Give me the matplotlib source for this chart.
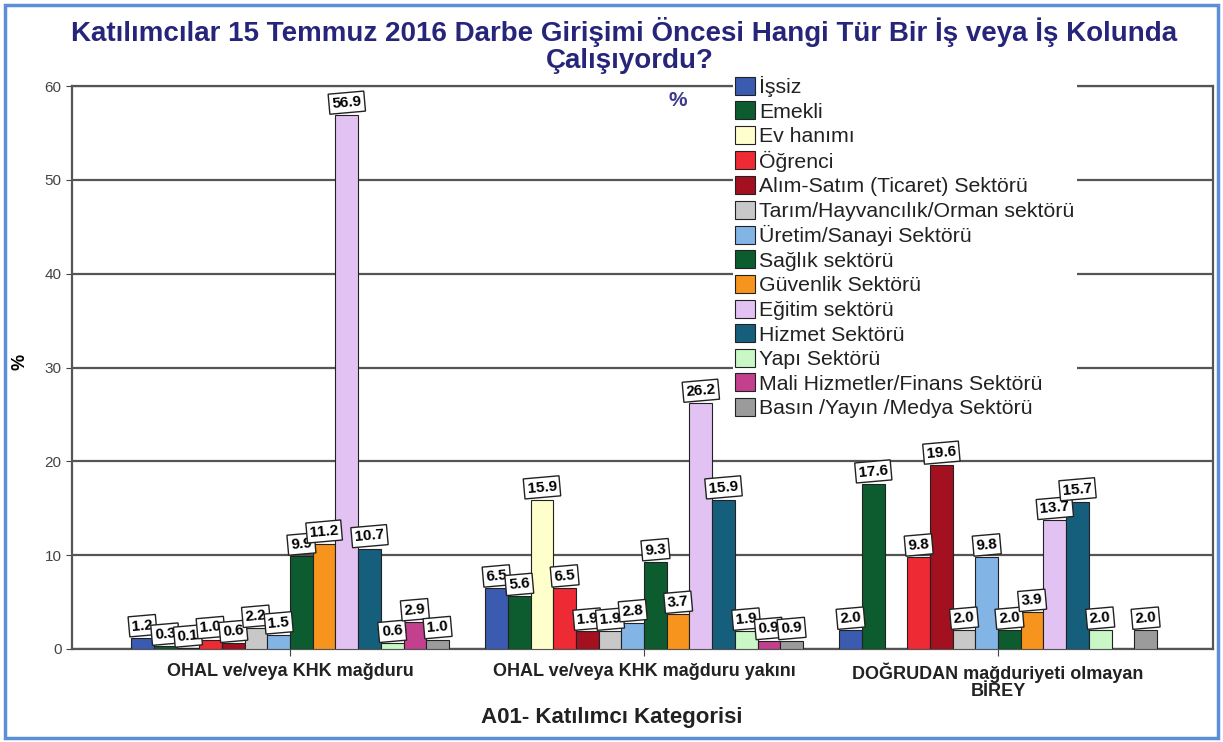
import numpy as np
import matplotlib.pyplot as plt
from matplotlib.patches import Rectangle

plt.rcParams['font.family'] = ['Liberation Sans', 'DejaVu Sans']

# groups on the x axis
groups = ["OHAL ve/veya KHK mağduru",
          "OHAL ve/veya KHK mağduru yakını",
          "DOĞRUDAN mağduriyeti olmayan\nBİREY"]

# occupation categories (legend order)
categories = ["İşsiz", "Emekli", "Ev hanımı", "Öğrenci",
              "Alım-Satım (Ticaret) Sektörü", "Tarım/Hayvancılık/Orman sektörü",
              "Üretim/Sanayi Sektörü", "Sağlık sektörü", "Güvenlik Sektörü",
              "Eğitim sektörü", "Hizmet Sektörü", "Yapı Sektörü",
              "Mali Hizmetler/Finans Sektörü", "Basın /Yayın /Medya Sektörü"]

# percentages per group, same order as categories
magdur = [1.2, 0.3, 0.1, 1.0, 0.6, 2.2, 1.5, 9.9, 11.2, 56.9, 10.7, 0.6, 2.9, 1.0]
yakini = [6.5, 5.6, 15.9, 6.5, 1.9, 1.9, 2.8, 9.3, 3.7, 26.2, 15.9, 1.9, 0.9, 0.9]
birey = [2.0, 17.6, 0.0, 9.8, 19.6, 2.0, 9.8, 2.0, 3.9, 13.7, 15.7, 2.0, 0.0, 2.0]

colors = ["#3A5BB0", "#0D5C2F", "#FFFFCC", "#EE2A35", "#A3101F", "#C8C8C8",
          "#82B4E6", "#0D5C2F", "#F7941D", "#E2C2F2", "#155F7C", "#C9F7C6",
          "#C2408E", "#9B9B9B"]

values = np.array([magdur, yakini, birey])

fig = plt.figure(figsize=(12.23, 7.42), dpi=100)
ax = fig.add_axes([72 / 1223, 93 / 742, 1141 / 1223, 563 / 742])

n = len(categories)
width = 0.0641
x = np.arange(len(groups))
for i, cat in enumerate(categories):
    pos = x + (i - (n - 1) / 2) * width
    vals = values[:, i]
    ax.bar(pos, vals, width, color=colors[i], edgecolor="#222222",
           linewidth=0.8, label=cat, zorder=3)
    for xp, v in zip(pos, vals):
        if v <= 0:
            continue
        ax.annotate(f"{v:.1f}", (xp, v), xytext=(0, 3), textcoords="offset points",
                    ha="center", va="bottom", fontsize=11, fontweight="bold",
                    rotation=5, zorder=5,
                    bbox=dict(boxstyle="square,pad=0.2", fc="white", ec="#222222", lw=1))

ax.set_xlim(-0.616, 2.607)
ax.set_ylim(0, 60)
ax.set_yticks(range(0, 61, 10))
ax.tick_params(axis="y", labelsize=11, labelcolor="#444444", length=4, color="#444444")
ax.set_xticks(x)
ax.set_xticklabels(groups, fontsize=13, fontweight="bold", color="#222222", linespacing=1.0)
ax.tick_params(axis="x", length=5, color="#444444", pad=5)
ax.yaxis.grid(True, color="#555555", linewidth=1.6, zorder=0)
ax.set_axisbelow(True)
for s in ax.spines.values():
    s.set_color("#555555")
    s.set_linewidth(1.6)

fig.text(20 / 1223, 1 - 362 / 742, "%", rotation=90, fontsize=13, fontweight="bold",
         ha="center", va="center")
fig.text(612 / 1223, 1 - 718 / 742, "A01- Katılımcı Kategorisi", fontsize=16,
         fontweight="bold", ha="center", va="center", color="#222222")

fig.text(624 / 1223, 1 - 32 / 742, "Katılımcılar 15 Temmuz 2016 Darbe Girişimi Öncesi Hangi Tür Bir İş veya İş Kolunda",
         fontsize=20, fontweight="bold", color="#26257A", ha="center", va="center")
fig.text(630 / 1223, 1 - 61 / 742, "Çalışıyordu?", fontsize=20, fontweight="bold",
         color="#26257A", ha="center", va="center")
fig.text(678 / 1223, 1 - 100 / 742, "%", fontsize=15, fontweight="bold",
         color="#3B3A8E", ha="center", va="center")

leg = ax.legend(loc="upper left", bbox_to_anchor=(733 / 1223, 1 - 74 / 742),
                bbox_transform=fig.transFigure, frameon=True, fontsize=15.3,
                handlelength=0.93, handleheight=0.93, handletextpad=0.2,
                labelspacing=0.2, borderpad=0.1, borderaxespad=0)
leg.get_frame().set_facecolor("white")
leg.get_frame().set_edgecolor("none")
leg.get_frame().set_alpha(1)
leg.set_zorder(6)
for t in leg.get_texts():
    t.set_color("#222222")

fig.patches.append(Rectangle((5 / 1223, 4 / 742), 1213 / 1223, 733 / 742,
                             transform=fig.transFigure, fill=False,
                             edgecolor="#5B8FD6", linewidth=2.5))

fig.savefig("out.png", dpi=100)
